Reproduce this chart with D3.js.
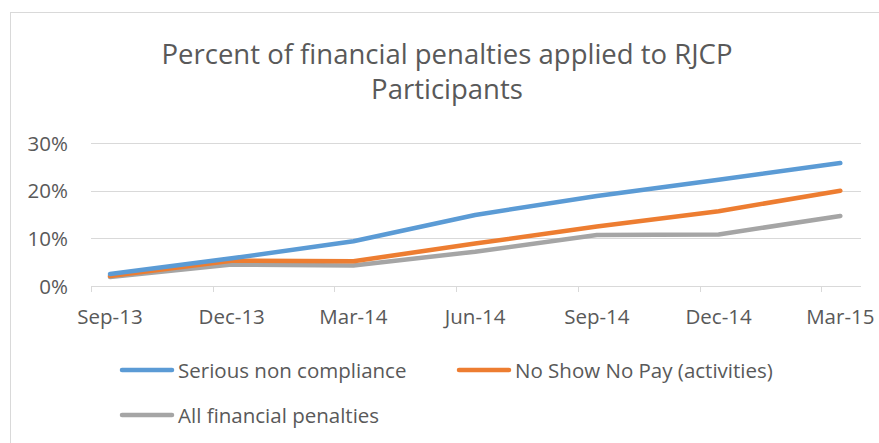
<!DOCTYPE html>
<html lang="en">
<head>
<meta charset="UTF-8">
<title>RJCP penalties</title>
<script src="https://d3js.org/d3.v7.min.js"></script>
<style>
    body { margin: 0; background: #fff; }
    text { font-family: "Open Sans", sans-serif; fill: #595959; }
</style>
</head>
<body>
<svg width="879" height="443"></svg>
<script>
    // values (percent)
    var months = ["Sep-13", "Dec-13", "Mar-14", "Jun-14", "Sep-14", "Dec-14", "Mar-15"];
    var seriousNonCompliance = [2.5, 5.8, 9.4, 14.9, 18.9, 22.3, 25.8];
    var noShowNoPay = [2.1, 5.3, 5.2, 8.9, 12.5, 15.7, 20.0];
    var allPenalties = [1.9, 4.5, 4.3, 7.2, 10.7, 10.8, 14.7];
    var yTicks = [0, 10, 20, 30];

    var series = [
        {name: "Serious non compliance", values: seriousNonCompliance, color: "#5b9bd5"},
        {name: "No Show No Pay (activities)", values: noShowNoPay, color: "#ed7d31"},
        {name: "All financial penalties", values: allPenalties, color: "#a5a5a5"}
    ];

    let svg = d3.select("svg");

    // chart border
    svg.append("rect")
        .attr("x", 10.5).attr("y", 12.5)
        .attr("width", 900).attr("height", 500)
        .attr("fill", "none")
        .attr("stroke", "#d9d9d9");

    // title
    let title = svg.append("text")
        .attr("text-anchor", "middle")
        .style("font-size", "27.5px");
    title.append("tspan").attr("x", 447).attr("y", 64).text("Percent of financial penalties applied to RJCP");
    title.append("tspan").attr("x", 447).attr("y", 99).text("Participants");

    // x is a date-like axis: ticks sit a bit left of each point
    let x = d3.scaleLinear().domain([-0.156, 6.17]).range([91, 861]);
    let y = d3.scaleLinear().domain([0, 30]).range([286, 143]);

    // gridlines
    svg.append("g").selectAll("line")
        .data(yTicks)
        .join("line")
        .attr("x1", 91).attr("x2", 861)
        .attr("y1", d => Math.round(y(d)) + 0.5)
        .attr("y2", d => Math.round(y(d)) + 0.5)
        .attr("stroke", "#d9d9d9")
        .attr("stroke-width", 1);

    // y labels
    svg.append("g").selectAll("text")
        .data(yTicks)
        .join("text")
        .attr("x", 68)
        .attr("y", d => y(d) + 7.5)
        .attr("text-anchor", "end")
        .style("font-size", "20.5px")
        .text(d => d + "%");

    // x tick marks
    svg.append("g").selectAll("line")
        .data(months)
        .join("line")
        .attr("x1", (d, i) => Math.round(x(i - 0.156)) + 0.5)
        .attr("x2", (d, i) => Math.round(x(i - 0.156)) + 0.5)
        .attr("y1", 286).attr("y2", 292)
        .attr("stroke", "#d9d9d9");

    // x labels
    svg.append("g").selectAll("text")
        .data(months)
        .join("text")
        .attr("x", (d, i) => x(i))
        .attr("y", 324)
        .attr("text-anchor", "middle")
        .style("font-size", "20.5px")
        .text(d => d);

    let line = d3.line()
        .x((d, i) => x(i))
        .y(d => y(d));

    // draw back to front so blue ends on top
    svg.append("g").selectAll("path")
        .data(series.slice().reverse())
        .join("path")
        .attr("d", d => line(d.values))
        .attr("fill", "none")
        .attr("stroke", d => d.color)
        .attr("stroke-width", 4.5)
        .attr("stroke-linecap", "round")
        .attr("stroke-linejoin", "round");

    // legend
    let legendPos = [[122, 370], [459, 370], [122, 415]];
    let legend = svg.append("g").selectAll("g")
        .data(series)
        .join("g")
        .attr("transform", (d, i) => "translate(" + legendPos[i][0] + "," + legendPos[i][1] + ")");
    legend.append("line")
        .attr("x1", 0).attr("x2", 50)
        .attr("stroke", d => d.color)
        .attr("stroke-width", 4.5)
        .attr("stroke-linecap", "round");
    legend.append("text")
        .attr("x", 56).attr("y", 7.5)
        .style("font-size", "20.5px")
        .text(d => d.name);
</script>
</body>
</html>
